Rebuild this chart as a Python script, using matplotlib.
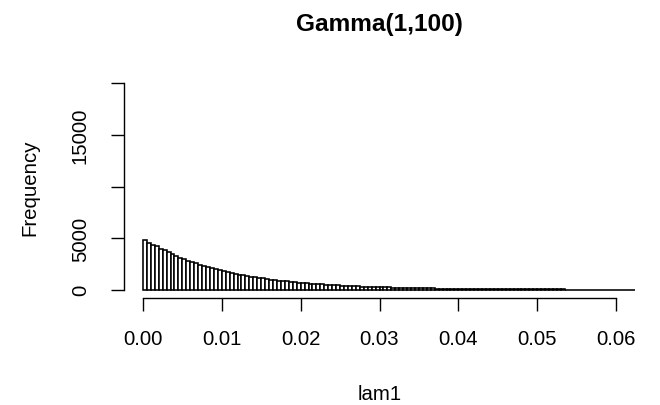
import numpy as np
import matplotlib
matplotlib.use("Agg")
import matplotlib.pyplot as plt

plt.rcParams.update({"font.family": ["Liberation Sans", "DejaVu Sans"]})

## Données (histogramme, pas de 0.0005)
BIN_WIDTH = 0.0005
counts = [4790, 4560, 4380, 4190, 3960, 3810, 3620, 3420, 3290, 3080,
          2950, 2830, 2660, 2560, 2410, 2290, 2200, 2070, 1990, 1880,
          1790, 1720, 1610, 1550, 1460, 1400, 1330, 1270, 1200, 1150,
          1090, 1030, 990, 930, 890, 850, 810, 760, 730, 690,
          660, 630, 600, 570, 540, 510, 490, 470, 440, 420,
          400, 380, 360, 345, 330, 310, 295, 285, 270, 255,
          240, 230, 220, 210, 200, 190, 180, 170, 165, 155,
          145, 140, 135, 125, 120, 115, 110, 105, 100, 95,
          90, 85, 80, 77, 73, 70, 66, 63, 60, 57,
          54, 52, 49, 47, 44, 42, 40, 38, 36, 35,
          33, 31, 30, 28, 27, 25, 24, 23, 22, 21,
          20, 19, 18, 17, 16, 15, 15, 14, 13, 12,
          12, 11, 11, 10, 10]
x_ticks = [0.00, 0.01, 0.02, 0.03, 0.04, 0.05, 0.06]
x_labels = ["0.00", "0.01", "0.02", "0.03", "0.04", "0.05", "0.06"]
y_ticks = [0, 5000, 10000, 15000, 20000]
y_labels = ["0", "5000", "", "15000", ""]

W, H = 660, 406
fig = plt.figure(figsize=(W / 100, H / 100), dpi=100)
ax = fig.add_axes([124 / W, 1 - 299 / H, (635 - 124) / W, (299 - 76) / H])

left_edges = np.arange(len(counts)) * BIN_WIDTH
ax.bar(left_edges, counts, width=BIN_WIDTH, align="edge",
       facecolor="white", edgecolor="black", linewidth=1.15)

ax.set_xlim(-0.0024, 0.0624)
ax.set_ylim(-800, 20800)

for s in ["top", "right"]:
    ax.spines[s].set_visible(False)
ax.spines["left"].set_bounds(0, 20000)
ax.spines["bottom"].set_bounds(0, 0.06)
for s in ["left", "bottom"]:
    ax.spines[s].set_linewidth(1.0)

ax.set_xticks(x_ticks)
ax.set_xticklabels(x_labels)
ax.set_yticks(y_ticks)
ax.set_yticklabels(y_labels, rotation=90, va="center")
ax.tick_params(axis="both", length=9.5, width=1.0, labelsize=14.7)
ax.tick_params(axis="x", pad=13)
ax.tick_params(axis="y", pad=15)

fig.text(379.5 / W, 1 - 30.5 / H, "Gamma(1,100)", ha="center", va="baseline",
         fontsize=17.6, fontweight="bold")
fig.text(379.5 / W, 1 - 400 / H, "lam1", ha="center", va="baseline", fontsize=14.7)
fig.text(29.5 / W, 1 - 187.5 / H, "Frequency", ha="center", va="center",
         rotation=90, fontsize=14.7)

fig.savefig("out.png", dpi=100)
